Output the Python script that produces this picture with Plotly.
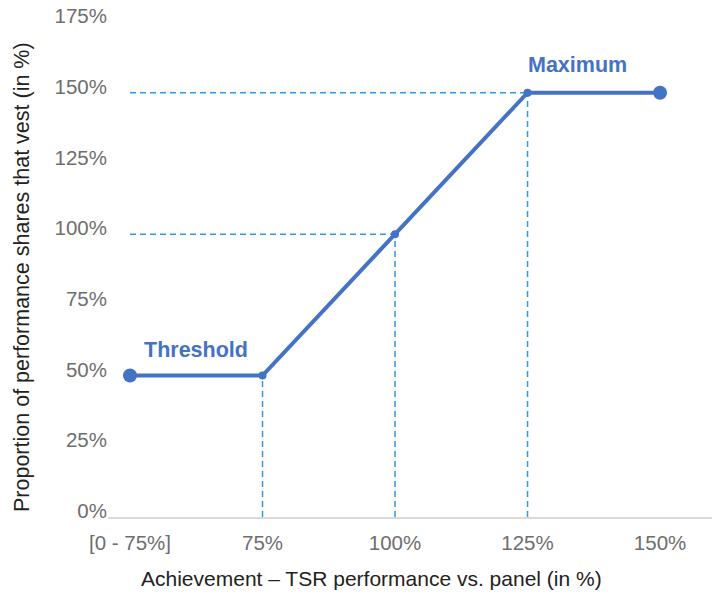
import plotly.graph_objects as go

# Vesting schedule: achievement level vs. share of performance shares that vest
achievement = ["[0 - 75%]", "75%", "100%", "125%", "150%"]
vesting_pct = [50, 50, 100, 150, 150]
y_ticks = [0, 25, 50, 75, 100, 125, 150, 175]

# Reference guides drawn from points down to the x-axis / across to the first category
vertical_guides = ["75%", "100%", "125%"]
horizontal_guides = ["100%", "125%"]

LINE_BLUE = "#4472C4"
GUIDE_BLUE = "#2F9AE3"
FONT = "Liberation Sans, Arial, sans-serif"

xpos = list(range(len(achievement)))
idx = {c: i for i, c in enumerate(achievement)}

fig = go.Figure()

for c in vertical_guides:
    i = idx[c]
    fig.add_trace(go.Scatter(
        x=[xpos[i], xpos[i]], y=[0, vesting_pct[i]], mode="lines",
        line=dict(color=GUIDE_BLUE, width=1.5, dash="6px,4px"),
        hoverinfo="skip", showlegend=False))

for c in horizontal_guides:
    i = idx[c]
    fig.add_trace(go.Scatter(
        x=[xpos[0], xpos[i]], y=[vesting_pct[i], vesting_pct[i]], mode="lines",
        line=dict(color=GUIDE_BLUE, width=1.5, dash="6px,4px"),
        hoverinfo="skip", showlegend=False))

sizes = [14 if i in (0, len(xpos) - 1) else 8 for i in xpos]
fig.add_trace(go.Scatter(
    x=xpos, y=vesting_pct, mode="lines+markers",
    line=dict(color=LINE_BLUE, width=4),
    marker=dict(color=LINE_BLUE, size=sizes, opacity=1,
                line=dict(color=LINE_BLUE, width=0)),
    showlegend=False))

fig.add_annotation(x=xpos[0], y=vesting_pct[0], text="<b>Threshold</b>",
                   xanchor="left", yanchor="middle", xshift=12, yshift=26,
                   showarrow=False, font=dict(family=FONT, size=21.5, color=LINE_BLUE))
fig.add_annotation(x=xpos[idx["125%"]], y=vesting_pct[idx["125%"]], text="<b>Maximum</b>",
                   xanchor="left", yanchor="middle", xshift=-2, yshift=28,
                   showarrow=False, font=dict(family=FONT, size=21.5, color=LINE_BLUE))

# Axis titles
fig.add_annotation(xref="paper", yref="paper", x=(371 - 108) / 604, y=-61 / 495,
                   text="Achievement – TSR performance vs. panel (in %)",
                   xanchor="center", yanchor="middle", showarrow=False,
                   font=dict(family=FONT, size=21, color="#222222"))
fig.add_annotation(xref="paper", yref="paper", x=-86 / 604, y=(517 - 277) / 495,
                   text="Proportion of performance shares that vest (in %)",
                   textangle=-90, xanchor="center", yanchor="middle", showarrow=False,
                   font=dict(family=FONT, size=21.5, color="#222222"))

fig.update_layout(
    width=715, height=597,
    margin=dict(l=108, r=3, t=22, b=80),
    paper_bgcolor="white", plot_bgcolor="white",
    font=dict(family=FONT, size=20.5, color="#6E6E6E"),
    xaxis=dict(range=[-0.166, 4.392], tickmode="array", tickvals=xpos, ticktext=achievement,
               showgrid=False, zeroline=False, showline=True, linecolor="#D9D9D9", linewidth=2,
               ticks="", ticklabelstandoff=6, fixedrange=True),
    yaxis=dict(range=[0, 175], tickmode="array", tickvals=y_ticks,
               ticktext=[f"{v}%" for v in y_ticks],
               showgrid=False, zeroline=False, showline=False, ticks="",
               ticklabelstandoff=0, ticklabelshift=-6, fixedrange=True),
)

fig.write_html("out.html")
